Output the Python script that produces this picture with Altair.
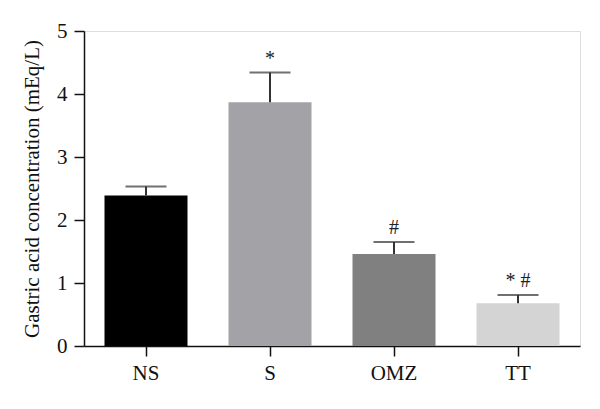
import altair as alt
import pandas as pd

groups = ["NS", "S", "OMZ", "TT"]
means = [2.39, 3.87, 1.46, 0.68]
errors = [0.14, 0.47, 0.19, 0.13]
marks = ["", "*", "#", "* #"]
colors = ["#000000", "#a3a2a7", "#808080", "#d4d4d4"]

df = pd.DataFrame({
    "group": groups,
    "mean": means,
    "top": [m + e for m, e in zip(means, errors)],
    "mark": marks,
})

font = "Liberation Serif"

x = alt.X("group:N", sort=groups,
          scale=alt.Scale(paddingInner=0, paddingOuter=0),
          axis=alt.Axis(title=None, labelAngle=0, labelFontSize=21, labelPadding=6,
                        tickSize=10, tickWidth=1.5, domainWidth=1.5,
                        domainColor="#111", tickColor="#111", labelColor="#111",
                        labelFont=font))

bars = alt.Chart(df).mark_bar(size=83).encode(
    x=x,
    y=alt.Y("mean:Q", scale=alt.Scale(domain=[0, 5], nice=False),
            axis=alt.Axis(title="Gastric acid concentration (mEq/L)", values=[0, 1, 2, 3, 4, 5],
                          format="d", grid=False, labelFontSize=21, labelPadding=7,
                          tickSize=10, tickWidth=1.5, domainWidth=1.5,
                          domainColor="#111", tickColor="#111", labelColor="#111",
                          titleFontSize=21, titleFontWeight="normal", titleColor="#111",
                          titlePadding=14, labelFont=font, titleFont=font)),
    color=alt.Color("group:N", sort=groups,
                    scale=alt.Scale(domain=groups, range=colors), legend=None),
)

err = alt.Chart(df).mark_rule(color="#333", strokeWidth=2).encode(
    x=alt.X("group:N", sort=groups),
    y="mean:Q",
    y2="top:Q",
)

caps = alt.Chart(df).mark_tick(color="#333", thickness=2, size=41, orient="horizontal").encode(
    x=alt.X("group:N", sort=groups),
    y="top:Q",
)

txt = alt.Chart(df).mark_text(font=font, fontSize=20, dy=-14, baseline="middle", color="#222").encode(
    x=alt.X("group:N", sort=groups),
    y="top:Q",
    text="mark:N",
)

chart = alt.layer(bars, err, caps, txt).properties(
    width=496, height=315,
    autosize=alt.AutoSizeParams(type="none"),
    padding={"left": 76, "top": 23, "right": 10, "bottom": 50},
).configure_view(stroke=None).configure(background="white")

chart.save("out.html", embed_options={"renderer": "svg", "actions": False})
